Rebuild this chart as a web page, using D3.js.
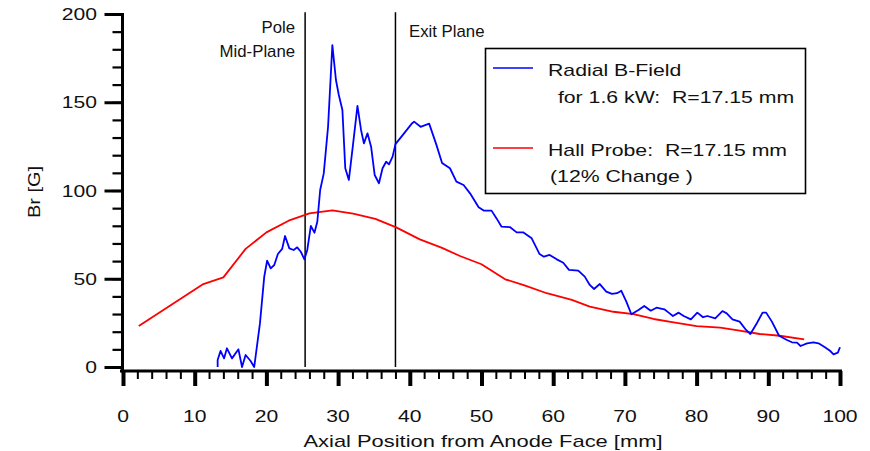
<!DOCTYPE html>
<html><head><meta charset="utf-8">
<script src="https://cdn.jsdelivr.net/npm/d3@7"></script>
<style>
html,body{margin:0;padding:0;background:#fff;}
svg{display:block;}
text{font-family:"Liberation Sans",Arial,Helvetica,sans-serif;fill:#111;white-space:pre;}
</style></head><body>
<svg id="chart" width="870" height="451"></svg>
<script>
// ---- data ----
const blueX = [13.2,13.2,13.6,14.1,14.5,15.2,16.1,16.6,17.1,17.8,18.3,19.1,19.7,20.1,20.6,21.1,21.6,22.2,22.6,23.2,23.8,24.3,24.8,25.3,25.7,26.2,26.7,27.1,27.5,28.0,28.6,29.2,29.7,30.1,30.6,31.0,31.5,32.1,32.7,33.2,33.6,34.1,34.6,35.1,35.7,36.2,36.7,37.1,37.6,38.0,39.2,40.3,40.6,41.5,42.7,43.7,44.5,45.6,46.5,47.5,48.4,49.6,50.3,51.4,52.1,52.8,54.0,54.9,55.8,57.0,58.1,58.7,59.5,60.5,61.4,62.2,63.5,64.4,65.1,65.7,66.5,67.4,68.2,68.9,69.5,70.2,70.9,71.9,72.7,73.6,74.4,75.5,76.1,76.7,77.5,78.2,79.2,80.1,80.9,81.5,82.6,83.6,84.2,85.0,86.0,86.9,87.5,88.4,89.2,89.7,90.5,91.5,92.6,93.3,94.0,94.5,95.4,96.3,97.0,97.9,98.6,99.1,99.7,100.0];
const blueY = [0,4.0,9.1,4.9,10.6,4.9,10.0,0,6.8,3.4,0,24.7,51.2,60.2,55.9,57.8,64.0,66.9,74.2,67.2,66.3,67.8,65.3,61.0,66.3,79.9,76.1,82.3,100.3,109.7,136.1,182.4,162.6,154.1,145.6,112.6,106.0,126.7,147.9,134.3,126.7,132.4,124.8,108.8,104.1,112.6,116.3,114.8,119.2,126.3,132.4,138.0,139.0,136.1,137.9,126.0,115.6,112.6,105.0,103.1,98.4,90.5,88.6,88.6,84.2,79.5,79.2,76.3,76.3,72.9,64.0,62.5,63.5,61.0,59.1,55.0,54.6,51.2,46.5,44.2,47.0,42.7,41.4,41.8,43.2,37.0,29.9,32.3,34.6,31.9,33.6,32.7,30.8,28.9,30.8,28.9,27.0,30.8,28.2,28.9,27.6,31.7,30.4,27.0,25.7,21.0,18.7,24.8,30.8,30.8,25.7,17.7,15.3,14.0,13.8,11.9,13.4,14.0,13.4,11.2,9.2,7.2,8.1,11.2];
const redX = [2.2,11.2,14.0,17.1,20.0,23.1,26.0,29.2,32.1,35.2,38.1,41.4,44.5,47.0,50.0,53.3,56.0,59.1,62.6,65.1,68.4,71.2,74.0,76.8,80.0,83.3,86.0,88.8,91.6,95.0];
const redY = [23.2,47.0,50.8,66.9,76.3,82.9,87.0,88.8,86.9,83.9,79.1,72.3,67.5,62.9,58.2,49.7,46.3,41.8,38.0,34.2,31.3,29.9,27.2,25.3,23.2,22.3,20.6,18.7,17.7,15.7];
const xMajorTicks = [0,10,20,30,40,50,60,70,80,90,100];
const yMajorTicks = [0,50,100,150,200];
const planeX = [25.4, 38.0];
const xTitle = "Axial Position from Anode Face [mm]";
const yTitle = "Br [G]";
const legendLines = ["Radial B-Field", " for 1.6 kW:  R=17.15 mm", "Hall Probe:  R=17.15 mm", "(12% Change )"];

// ---- chart ----
const svg = d3.select("#chart");
const x = d3.scaleLinear().domain([0,100]).range([123,840]);
const y = d3.scaleLinear().domain([0,200]).range([367,14]);

function sText(px, py, str, o) {
  o = o || {};
  const t = svg.append("text")
    .attr("transform", `translate(${px},${py})` + (o.rot ? ` rotate(${o.rot})` : "") + ` scale(${o.sx||1},1)`)
    .attr("text-anchor", o.anchor || "start")
    .style("font-size", (o.size||16) + "px")
    .text(str);
  return t;
}

// axes
const axisY = 122.5, axisXY = 371;
const gyMinor = svg.append("g").attr("transform", `translate(${axisY},0)`)
  .call(d3.axisLeft(y).tickValues(d3.range(0,201,10)).tickSize(10).tickSizeOuter(0).tickFormat(""));
gyMinor.selectAll("line").attr("stroke","#000").attr("stroke-width",2.2);
gyMinor.select(".domain").remove();
const gyMajor = svg.append("g").attr("transform", `translate(${axisY},0)`)
  .call(d3.axisLeft(y).tickValues(yMajorTicks).tickSize(18).tickSizeOuter(0).tickFormat(""));
gyMajor.selectAll("line").attr("stroke","#000").attr("stroke-width",3);
gyMajor.select(".domain").remove();

const gxMinor = svg.append("g").attr("transform", `translate(0,${axisXY})`)
  .call(d3.axisBottom(x).tickValues(d3.range(0,101,2)).tickSize(8).tickSizeOuter(0).tickFormat(""));
gxMinor.selectAll("line").attr("stroke","#000").attr("stroke-width",2);
gxMinor.select(".domain").remove();
const gxMajor = svg.append("g").attr("transform", `translate(0,${axisXY})`)
  .call(d3.axisBottom(x).tickValues(xMajorTicks).tickSize(15).tickSizeOuter(0).tickFormat(""));
gxMajor.selectAll("line").attr("stroke","#000").attr("stroke-width",4);
gxMajor.select(".domain").remove();

svg.append("line").attr("x1",axisY).attr("x2",axisY).attr("y1",y(200)-1).attr("y2",axisXY+1.5)
  .attr("stroke","#000").attr("stroke-width",3);
svg.append("line").attr("x1",x(0)-3).attr("x2",x(100)+2).attr("y1",axisXY).attr("y2",axisXY)
  .attr("stroke","#000").attr("stroke-width",3);

// tick labels
yMajorTicks.forEach(v => sText(97, y(v)+6, String(v), {anchor:"end", sx:1.32}));
xMajorTicks.forEach(v => sText(x(v), 422, String(v), {anchor:"middle", sx:1.32}));
sText(483, 447, xTitle, {anchor:"middle", sx:1.37});
sText(40, 192, yTitle, {anchor:"middle", rot:-90, sx:1.25});

// plane markers
planeX.forEach(v => {
  svg.append("line").attr("x1",x(v)).attr("x2",x(v)).attr("y1",y(201)).attr("y2",y(0))
    .attr("stroke","#000").attr("stroke-width",1.5);
});
sText(x(planeX[0])-10, 33, "Pole", {anchor:"end", sx:1.05});
sText(x(planeX[0])-10, 56.5, "Mid-Plane", {anchor:"end", sx:1.05});
sText(x(planeX[1])+13.5, 37, "Exit Plane", {anchor:"start", sx:1.05});

// data lines
const line = d3.line().x(d => x(d[0])).y(d => y(d[1]));
const red = redX.map((v,i) => [v, redY[i]]);
const blue = blueX.map((v,i) => [v, blueY[i]]);
svg.append("path").attr("d", line(red)).attr("fill","none").attr("stroke","#ff0000")
  .attr("stroke-width",1.8).attr("stroke-linejoin","round");
svg.append("path").attr("d", line(blue)).attr("fill","none").attr("stroke","#0000ff")
  .attr("stroke-width",1.8).attr("stroke-linejoin","round");

// legend
svg.append("rect").attr("x",485.5).attr("y",48.5).attr("width",320).attr("height",145)
  .attr("fill","#fff").attr("stroke","#000").attr("stroke-width",1.6);
svg.append("line").attr("x1",493).attr("x2",533).attr("y1",68).attr("y2",68).attr("stroke","#0000ff").attr("stroke-width",1.5);
svg.append("line").attr("x1",493).attr("x2",533).attr("y1",148).attr("y2",148).attr("stroke","#ff0000").attr("stroke-width",1.5);
sText(548, 76, legendLines[0], {size:17, sx:1.25});
sText(552, 103, legendLines[1], {size:17, sx:1.25});
sText(548, 156, legendLines[2], {size:17, sx:1.25});
sText(550, 181.5, legendLines[3], {size:17, sx:1.25});
</script>
</body></html>
